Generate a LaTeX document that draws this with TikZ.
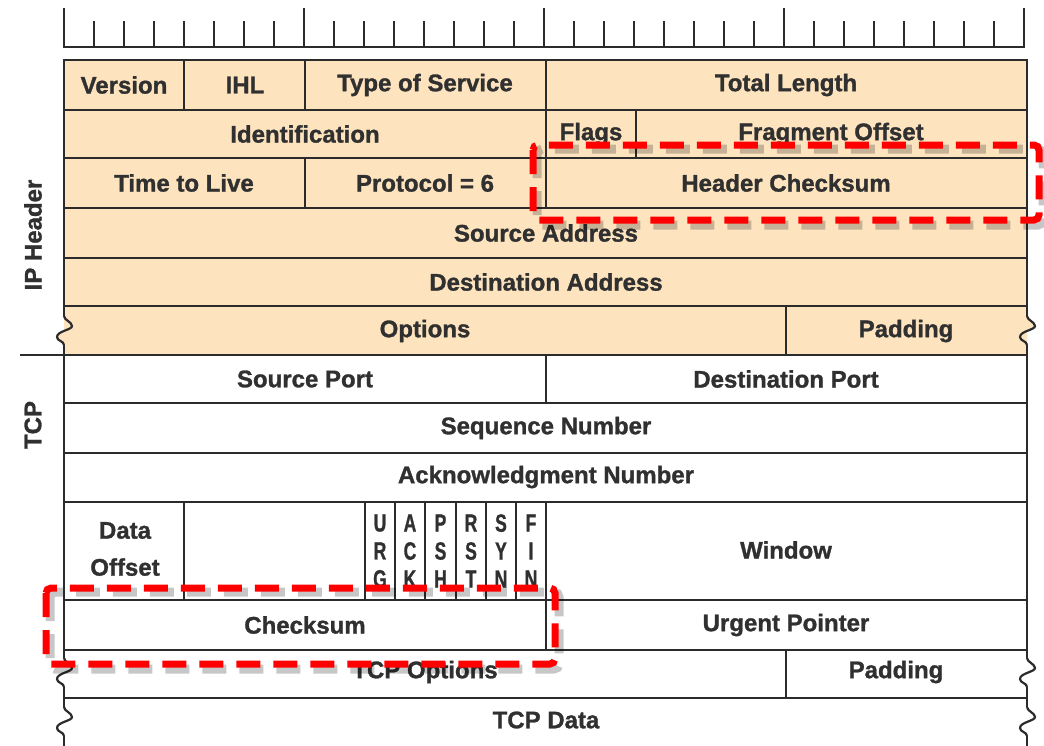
\documentclass[tikz,border=0pt]{standalone}
\usepackage{fontspec}
\setmainfont[BoldFeatures={FakeBold=1.2}]{Liberation Sans}
\newfontfamily\flagfont[FakeStretch=0.7,BoldFeatures={FakeBold=1.0}]{Liberation Sans}
\definecolor{ipfill}{HTML}{FDE4BF}
\definecolor{ln}{HTML}{2B2B2B}
\definecolor{tx}{HTML}{303030}
\begin{document}
\begin{tikzpicture}[x=1pt,y=-1pt,
  gl/.style={draw=ln,line width=2.2pt},
  lbl/.style={font=\fontsize{24}{26}\selectfont\bfseries, text=tx, inner sep=0pt},
  flag/.style={font=\flagfont\fontsize{25}{28}\selectfont\bfseries, text=tx, align=center, inner sep=0pt},
  hl/.style={draw=red, line width=7pt, dash pattern=on 24pt off 13pt, rounded corners=5pt},
  hlshadow/.style={draw=black, opacity=0.22, line width=9pt, dash pattern=on 24pt off 13pt, rounded corners=5pt},
  pics/wig/.style={code={
    \fill[#1] (0,0) .. controls (0,4) and (8,6) .. (8,10) .. controls (8,14) and (-7,15) .. (-7,21) .. controls (-7,25) and (0,25) .. (0,29) -- cycle;
    \draw[gl] (0,0) .. controls (0,4) and (8,6) .. (8,10) .. controls (8,14) and (-7,15) .. (-7,21) .. controls (-7,25) and (0,25) .. (0,29);
  }},
  pics/wig/.default=white
]
\useasboundingbox (0,0) rectangle (1044,745);

% ruler
\foreach \i in {0,...,32}{
  \pgfmathsetmacro\xx{64+\i*30}
  \pgfmathsetmacro\yt{mod(\i,8)==0 ? 8 : 21}
  \draw[gl] (\xx,\yt) -- (\xx,47);
}
\draw[gl] (63,47) -- (1025,47);

% IP header fill
\fill[ipfill] (64,60) rectangle (1027,355);

% horizontal lines
\foreach \y in {60,110,158,208,258,306,355,403,453,502,600,650,698}
  \draw[gl] (64,\y) -- (1027,\y);

% vertical lines inside
\draw[gl] (184,60) -- (184,110);
\draw[gl] (305,60) -- (305,110);
\draw[gl] (546,60) -- (546,208);
\draw[gl] (636,110) -- (636,158);
\draw[gl] (305,158) -- (305,208);
\draw[gl] (786,306) -- (786,355);
\draw[gl] (546,355) -- (546,403);
\foreach \x in {184,365,395,425,456,486,516,546}
  \draw[gl] (\x,502) -- (\x,600);
\draw[gl] (546,600) -- (546,650);
\draw[gl] (786,650) -- (786,698);

% outer vertical edges with break marks
\foreach \x in {64,1027}{
  \draw[gl] (\x,59) -- (\x,316);
  \draw[gl] (\x,345) -- (\x,658);
  \draw[gl] (\x,687) -- (\x,707);
  \draw[gl] (\x,736) -- (\x,746);
  \pic at (\x,316) {wig=ipfill};
  \pic at (\x,658) {wig};
  \pic at (\x,707) {wig};
}

% side separator
\draw[gl] (20,355) -- (64,355);

% side labels
\node[lbl, rotate=90] (iph) at (33,235) {IP Header};
\node[lbl, rotate=90] (tcp) at (33,425) {TCP};

% IP header texts
\node[lbl] (ver) at (124,85) {Version};
\node[lbl] (ihl) at (245,85) {IHL};
\node[lbl] (tos) at (425,85) {Type of Service};
\node[lbl] (tlen) at (786,85) {Total Length};
\node[lbl] (ident) at (305,134) {Identification};
\node[lbl] (flags) at (591,134) {Flags};
\node[lbl] (frag) at (831,134) {Fragment Offset};
\node[lbl] (ttl) at (184,183) {Time to Live};
\node[lbl] (proto) at (425,183) {Protocol = 6};
\node[lbl] (hcs) at (786,183) {Header Checksum};
\node[lbl] (src) at (546,233) {Source Address};
\node[lbl] (dst) at (546,282) {Destination Address};
\node[lbl] (opt) at (425,331) {Options};
\node[lbl] (pad) at (906,331) {Padding};

% TCP texts
\node[lbl] (sport) at (305,379) {Source Port};
\node[lbl] (dport) at (786,379) {Destination Port};
\node[lbl] (seq) at (546,428) {Sequence Number};
\node[lbl] (ack) at (546,477) {Acknowledgment Number};
\node[lbl, align=center, font=\fontsize{24}{37}\selectfont\bfseries] (doff) at (125,549) {Data\\Offset};
\node[lbl] (win) at (786,550) {Window};
\node[flag] (urg) at (380,551) {U\\R\\G};
\node[flag] (ackf) at (410,551) {A\\C\\K};
\node[flag] (psh) at (440.5,551) {P\\S\\H};
\node[flag] (rst) at (471,551) {R\\S\\T};
\node[flag] (syn) at (501,551) {S\\Y\\N};
\node[flag] (fin) at (531,551) {F\\I\\N};
\node[lbl] (cks) at (305,625) {Checksum};
\node[lbl] (urgp) at (786,625) {Urgent Pointer};
\node[lbl] (topt) at (425,672) {TCP Options};
\node[lbl] (tpad) at (896,672) {Padding};
\node[lbl] (tdata) at (546,720) {TCP Data};

% highlight boxes
\draw[hlshadow] (537,149) rectangle (1043,225);
\draw[hl] (533,145) rectangle (1039,220);
\draw[hlshadow] (50,592) rectangle (559,669);
\draw[hl] (46,588) rectangle (555,664);
\end{tikzpicture}
\end{document}
